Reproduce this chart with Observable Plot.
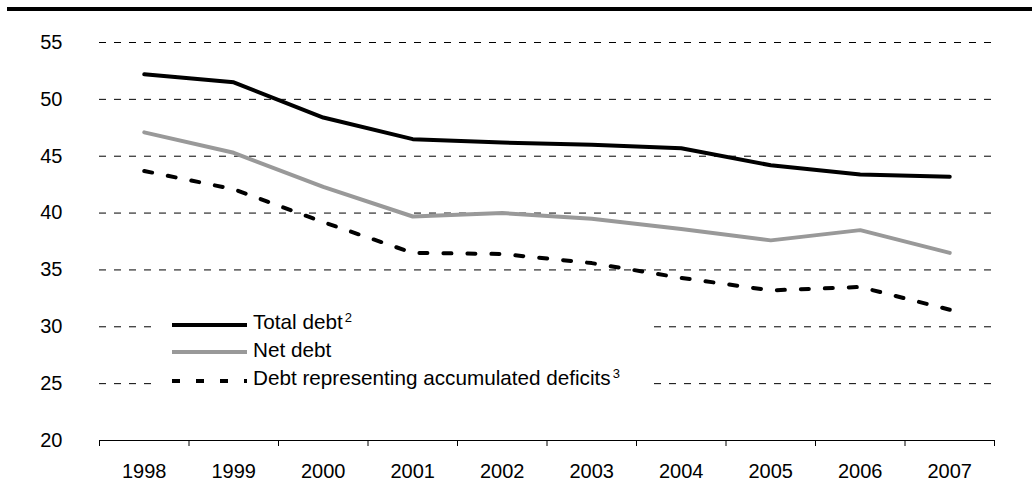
<!DOCTYPE html>
<html>
<head>
<meta charset="utf-8">
<script src="https://cdn.jsdelivr.net/npm/d3@7"></script>
<script src="https://cdn.jsdelivr.net/npm/@observablehq/plot@0.6"></script>
<style>
  html, body { margin: 0; padding: 0; background: #fff; }
  body { font-family: "Liberation Sans", Arial, sans-serif; }
  #wrap { position: relative; width: 1032px; height: 502px; overflow: hidden; }
  #topbar { position: absolute; left: 7px; top: 7px; width: 1025px; height: 4px; background: #000; }
  #legend { position: absolute; left: 152px; top: 308px; width: 500px; height: 88px; background: #fff; }
  .sample { position: absolute; left: 20px; width: 75px; height: 8px; overflow: visible; }
  .ltext { position: absolute; left: 101px; font-size: 20.7px; line-height: 20px; color: #000; white-space: nowrap; }
  .ltext sup { font-size: 13px; vertical-align: 0; position: relative; top: -7px; margin-left: 2px; }
</style>
</head>
<body>
<div id="wrap">
  <div id="chart"></div>
  <div id="topbar"></div>
  <div id="legend"></div>
</div>
<script>
// ---- Data ----
const years = [1998, 1999, 2000, 2001, 2002, 2003, 2004, 2005, 2006, 2007];
const totalDebt = [52.2, 51.5, 48.4, 46.5, 46.2, 46.0, 45.7, 44.2, 43.4, 43.2];
const netDebt = [47.1, 45.3, 42.3, 39.7, 40.0, 39.5, 38.6, 37.6, 38.5, 36.5];
const accumulatedDeficits = [43.7, 42.1, 39.2, 36.5, 36.4, 35.6, 34.3, 33.2, 33.5, 31.5];
const yTicks = [20, 25, 30, 35, 40, 45, 50, 55];
const seriesNames = ["Total debt", "Net debt", "Debt representing accumulated deficits"];
const seriesNotes = ["2", "", "3"];

// ---- Build tables ----
const toRows = (vals) => years.map((year, i) => ({year, value: vals[i]}));
const totalRows = toRows(totalDebt);
const netRows = toRows(netDebt);
const defRows = toRows(accumulatedDeficits);
const boundaries = [years[0] - 0.5, ...years.map(y => y + 0.5)];
const gridValues = yTicks.filter(v => v > yTicks[0]);

const styles = [
  {stroke: "#000000", strokeWidth: 4, dash: null},
  {stroke: "#999999", strokeWidth: 4, dash: null},
  {stroke: "#000000", strokeWidth: 4, dash: "8,16"}
];

const chart = Plot.plot({
  width: 1032,
  height: 502,
  marginTop: 42,
  marginBottom: 62,
  marginLeft: 99,
  marginRight: 38,
  style: {fontFamily: '"Liberation Sans", Arial, sans-serif', fontSize: "20px", color: "#000", background: "#fff"},
  x: {type: "linear", domain: [boundaries[0], boundaries[boundaries.length - 1]], axis: null, label: null},
  y: {domain: [yTicks[0], yTicks[yTicks.length - 1]], axis: null, label: null},
  marks: [
    Plot.ruleY(gridValues, {stroke: "#000", strokeWidth: 1, strokeDasharray: "7,8"}),
    Plot.ruleY([yTicks[0]], {stroke: "#000", strokeWidth: 1}),
    Plot.axisX(boundaries, {tickSize: 6, tickFormat: () => "", stroke: "#000", label: null}),
    Plot.axisX(years, {tickSize: 0, tickPadding: 23, tickFormat: d => String(d), fontSize: 20, label: null}),
    Plot.axisY(yTicks, {tickSize: 0, tickPadding: 37, fontSize: 20, label: null}),
    Plot.line(totalRows, {x: "year", y: "value", stroke: styles[0].stroke, strokeWidth: styles[0].strokeWidth, strokeLinejoin: "round"}),
    Plot.line(netRows, {x: "year", y: "value", stroke: styles[1].stroke, strokeWidth: styles[1].strokeWidth, strokeLinejoin: "round"}),
    Plot.line(defRows, {x: "year", y: "value", stroke: styles[2].stroke, strokeWidth: styles[2].strokeWidth, strokeDasharray: styles[2].dash, strokeLinejoin: "round"})
  ]
});
document.getElementById("chart").appendChild(chart);

// ---- Legend ----
const legend = document.getElementById("legend");
const lineTops = [17, 44, 73];   // relative to legend box
const textTops = [4, 32, 60];
seriesNames.forEach((name, i) => {
  const svg = d3.create("svg").attr("class", "sample").attr("width", 75).attr("height", 8)
    .style("top", (lineTops[i] - 4) + "px");
  svg.append("line").attr("x1", 0).attr("x2", 75).attr("y1", 4).attr("y2", 4)
    .attr("stroke", styles[i].stroke).attr("stroke-width", styles[i].strokeWidth)
    .attr("stroke-dasharray", styles[i].dash);
  legend.appendChild(svg.node());
  const t = document.createElement("div");
  t.className = "ltext";
  t.style.top = textTops[i] + "px";
  t.textContent = name;
  if (seriesNotes[i]) {
    const s = document.createElement("sup");
    s.textContent = seriesNotes[i];
    t.appendChild(s);
  }
  legend.appendChild(t);
});
</script>
</body>
</html>
